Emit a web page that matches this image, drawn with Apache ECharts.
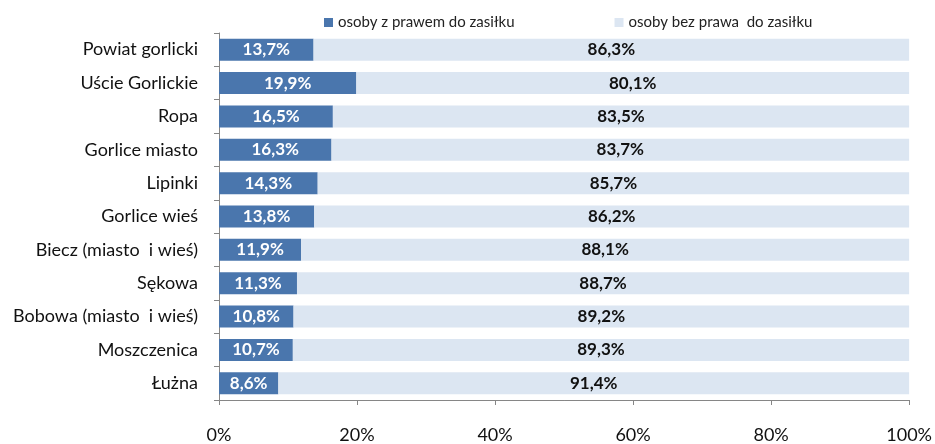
<!DOCTYPE html>
<html><head><meta charset="utf-8">
<script src="https://cdn.jsdelivr.net/npm/echarts@6/dist/echarts.min.js"></script>
<style>html,body{margin:0;padding:0;background:#fff}#c{width:935px;height:444px}</style>
</head><body><div id="c"></div>
<script>
const categories = ["Powiat gorlicki","Uście Gorlickie","Ropa","Gorlice miasto","Lipinki","Gorlice wieś","Biecz (miasto  i wieś)","Sękowa","Bobowa (miasto  i wieś)","Moszczenica","Łużna"];
const withRight = [13.7,19.9,16.5,16.3,14.3,13.8,11.9,11.3,10.8,10.7,8.6];
const withoutRight = [86.3,80.1,83.5,83.7,85.7,86.2,88.1,88.7,89.2,89.3,91.4];
const xTicks = [0,20,40,60,80,100];
const seriesNames = ["osoby z prawem do zasiłku","osoby bez prawa  do zasiłku"];
const fmt = v => String(v).replace('.', ',') + '%';
const font = 'Lato';
const chart = echarts.init(document.getElementById('c'));
chart.setOption({
  animation:false,
  textStyle:{fontFamily:font},
  legend:{top:10,left:319,itemWidth:9,itemHeight:9,itemGap:100,icon:'rect',
    textStyle:{fontFamily:font,fontSize:15,color:'#222'},
    data:seriesNames},
  grid:{left:219,right:25,top:33,bottom:43,containLabel:false},
  xAxis:{type:'value',min:0,max:100,interval:20,
    axisLine:{show:true,lineStyle:{color:'#868686'}},
    axisTick:{show:true,length:5,lineStyle:{color:'#868686'}},
    splitLine:{show:false},
    axisLabel:{margin:26,fontSize:18,color:'#111',fontFamily:font,formatter:v=>v+'%'}},
  yAxis:{type:'category',inverse:true,data:categories,
    axisLine:{show:true,lineStyle:{color:'#868686'}},
    axisTick:{show:true,length:5,lineStyle:{color:'#868686'}},
    axisLabel:{margin:21,fontSize:18,color:'#111',fontFamily:font}},
  series:[
    {name:seriesNames[0],type:'bar',stack:'t',data:withRight,barCategoryGap:'34%',
     itemStyle:{color:'#4a76ad'},
     label:{show:true,position:'inside',color:'#fff',fontWeight:'bold',fontSize:17,fontFamily:font,formatter:p=>fmt(p.value)}},
    {name:seriesNames[1],type:'bar',stack:'t',data:withoutRight,barCategoryGap:'34%',
     itemStyle:{color:'#dce6f2'},
     label:{show:true,position:'inside',color:'#111',fontWeight:'bold',fontSize:17,fontFamily:font,formatter:p=>fmt(p.value)}}
  ]
});
</script></body></html>
